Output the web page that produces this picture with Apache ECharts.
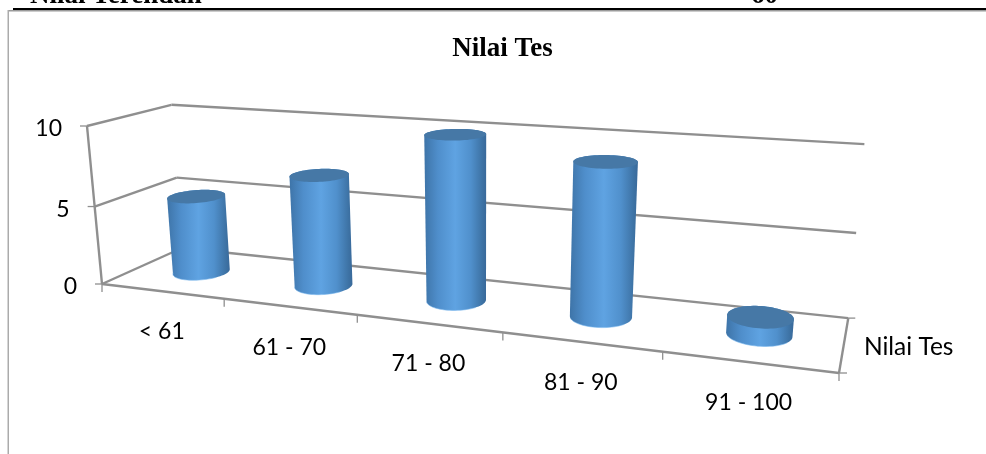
<!DOCTYPE html>
<html>
<head>
<meta charset="utf-8">
<style>html,body{margin:0;padding:0;background:#fff}#chart{width:986px;height:454px}</style>
<script src="https://cdn.jsdelivr.net/npm/echarts@6/dist/echarts.min.js"></script>
</head>
<body>
<div id="chart"></div>
<script>
// Test score distribution
const categories = ['< 61', '61 - 70', '71 - 80', '81 - 90', '91 - 100'];
const values = [5, 7, 10, 9, 1];
const valueTicks = [0, 5, 10];
const seriesName = 'Nilai Tes';
const chartTitle = 'Nilai Tes';

// Perspective camera: where the box's origin and three unit edges land, plus
// the per-axis foreshortening terms of the projective divide.
const camera = {
  origin: [102, 284], xEnd: [839, 373], yEnd: [87, 126], zEnd: [182, 248],
  gx: -0.205, gy: -0.038, gz: 0.109
};
const edgeTerm = (end, g, i) => end[i] * (1 + g) - camera.origin[i];
const ax = [0, 1].map(i => edgeTerm(camera.xEnd, camera.gx, i));
const ay = [0, 1].map(i => edgeTerm(camera.yEnd, camera.gy, i));
const az = [0, 1].map(i => edgeTerm(camera.zEnd, camera.gz, i));

// Unit box (x along categories, y up the value axis, z into the page) to screen.
function project(x, y, z) {
  const w = 1 + camera.gx * x + camera.gy * y + camera.gz * z;
  return [0, 1].map(i => (camera.origin[i] + ax[i] * x + ay[i] * y + az[i] * z) / w);
}

// Grid pixels from the library's scales to unit-box fractions.
function toUnit(api, params, cat, val) {
  const c = api.coord([cat, val]);
  const g = params.coordSys;
  return [(c[0] - g.x) / g.width, (g.y + g.height - c[1]) / g.height];
}

function convexHull(points) {
  const p = points.slice().sort((a, b) => a[0] - b[0] || a[1] - b[1]);
  const cross = (o, a, b) => (a[0] - o[0]) * (b[1] - o[1]) - (a[1] - o[1]) * (b[0] - o[0]);
  const build = list => {
    const h = [];
    for (const q of list) {
      while (h.length > 1 && cross(h[h.length - 2], h[h.length - 1], q) <= 0) h.pop();
      h.push(q);
    }
    h.pop();
    return h;
  };
  return build(p).concat(build(p.reverse()));
}

const lineColor = '#8f8f8f';
const tickFont = '23px Lato';
const seriesFont = '24.5px Lato';
const seg = (a, b, w) => ({
  type: 'line',
  shape: { x1: a[0], y1: a[1], x2: b[0], y2: b[1] },
  style: { stroke: lineColor, lineWidth: w || 2.4 }
});
const thinSeg = (a, b) => seg(a, b, 1.3);
const label = (text, x, y, align, font) => ({
  type: 'text',
  style: { text, x, y, align: align || 'center', verticalAlign: 'middle', font: font || tickFont, fill: '#000' }
});

// Back wall and side wall gridlines with their value ticks.
function renderWall(params, api) {
  const y = toUnit(api, params, 0, api.value(0))[1];
  const front = project(0, y, 0), corner = project(0, y, 1), right = project(1, y, 1);
  return {
    type: 'group',
    children: [
      seg(front, corner), seg(corner, right),
      thinSeg(front, [front[0] - 7, front[1]]),
      label(String(api.value(0)), front[0] - 25, front[1] + 3, 'right')
    ]
  };
}

// Floor outline, the upright value axis and the depth-axis label.
function renderFrame(params, api) {
  const p = (x, y, z) => project(x, y, z);
  const frontRight = p(1, 0, 0), backRight = p(1, 0, 1), mid = p(1, 0, 0.5);
  return {
    type: 'group',
    children: [
      seg(p(0, 0, 0), p(0, 1, 0)),
      seg(p(0, 0, 0), frontRight),
      seg(frontRight, backRight),
      thinSeg(frontRight, [frontRight[0] + 8, frontRight[1]]),
      thinSeg(frontRight, [frontRight[0], frontRight[1] + 8]),
      thinSeg(backRight, [backRight[0] + 7, backRight[1]]),
      label(seriesName, mid[0] + 20, mid[1] + 3, 'left', seriesFont)
    ]
  };
}

// Category ticks along the front floor edge, with each band's label.
function renderCategory(params, api) {
  const i = api.value(0);
  const xc = toUnit(api, params, i, 0)[0];
  const left = project(xc - 0.1, 0, 0);
  const mid = project(xc, 0, 0);
  return {
    type: 'group',
    children: [
      thinSeg(left, [left[0], left[1] + 8]),
      label(categories[i], mid[0], mid[1] + 40.5)
    ]
  };
}

const bodyGradient = new echarts.graphic.LinearGradient(0, 0, 1, 0, [
  { offset: 0, color: '#3e74a8' },
  { offset: 0.22, color: '#4f8ecb' },
  { offset: 0.5, color: '#5fa3e2' },
  { offset: 0.75, color: '#5090cc' },
  { offset: 0.94, color: '#3d72a4' },
  { offset: 1, color: '#39699a' }
]);

// One cylinder: a projected circle at the floor and at the value height.
function renderBar(params, api) {
  const [xc, top] = toUnit(api, params, api.value(0), api.value(1));
  const rx = 0.0397, rz = 0.216;
  const ring = (y, from, to) => {
    const pts = [];
    for (let k = 0; k <= 72; k++) {
      const t = from + k / 72 * (to - from);
      pts.push(project(xc + rx * Math.cos(t), y, 0.5 + rz * Math.sin(t)));
    }
    return pts;
  };
  const lower = ring(0, 0, Math.PI * 2), upper = ring(top, 0, Math.PI * 2);
  return {
    type: 'group',
    children: [
      { type: 'polygon', shape: { points: convexHull(lower.concat(upper)) }, style: { fill: bodyGradient } },
      { type: 'polyline', shape: { points: ring(0, Math.PI * 1.15, Math.PI * 1.85) }, style: { stroke: '#79b7ee', lineWidth: 1, fill: 'none', opacity: 0.6 } },
      { type: 'polygon', shape: { points: upper }, style: { fill: '#4678a6' } }
    ]
  };
}

const chart = echarts.init(document.getElementById('chart'), null, { renderer: 'canvas' });
chart.setOption({
  animation: false,
  backgroundColor: '#fff',
  title: {
    text: chartTitle, left: 497.5, top: 31, textAlign: 'center',
    textStyle: { fontFamily: 'Liberation Serif', fontWeight: 'bold', fontSize: 27, color: '#000' }
  },
  grid: { left: 102, top: 126, width: 737, height: 158 },
  xAxis: { type: 'category', data: categories, show: false },
  yAxis: { type: 'value', min: 0, max: 10, interval: 5, show: false },
  graphic: [
    { type: 'text', style: { text: 'Nilai Terendah', x: 30, y: 9.5, verticalAlign: 'bottom', font: 'bold 27px "Liberation Serif"', fill: '#000' } },
    { type: 'text', style: { text: '60', x: 751, y: 9.5, verticalAlign: 'bottom', font: 'bold 27px "Liberation Serif"', fill: '#000' } },
    { type: 'rect', shape: { x: 0, y: 3.5, width: 986, height: 4.5 }, style: { fill: '#fff' } },
    { type: 'rect', shape: { x: 8, y: 10, width: 978, height: 1.5 }, style: { fill: '#9a9a9a' } },
    { type: 'rect', shape: { x: 7.5, y: 10, width: 1.5, height: 444 }, style: { fill: '#ababab' } },
    { type: 'rect', shape: { x: 13, y: 8, width: 973, height: 2 }, style: { fill: '#000' } }
  ],
  series: [
    { type: 'custom', clip: false, silent: true, renderItem: renderWall, data: valueTicks.map(v => [v]), z: 1 },
    { type: 'custom', clip: false, silent: true, renderItem: renderFrame, data: [[0]], z: 2 },
    { type: 'custom', clip: false, silent: true, renderItem: renderCategory, data: categories.map((c, i) => [i]), z: 2 },
    { type: 'custom', name: seriesName, clip: false, silent: true, renderItem: renderBar, data: values.map((v, i) => [i, v]), z: 3 }
  ]
});
</script>
</body>
</html>
